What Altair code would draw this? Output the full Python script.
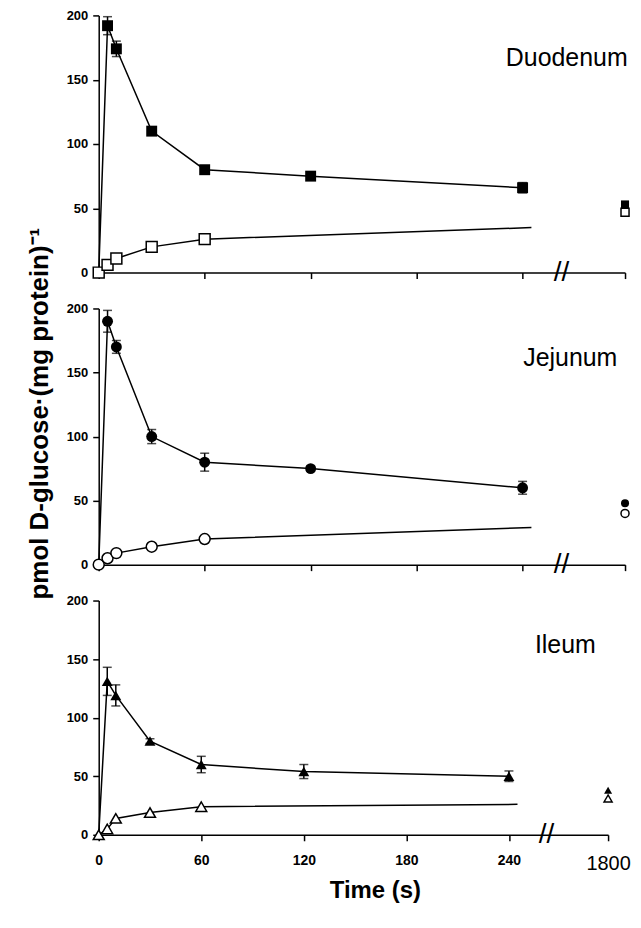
import altair as alt
import pandas as pd

FONT = "Liberation Sans"
BREAK_T = 262      # axis position of the "//" break
LATE_T = 1800      # late time point
LATE_POS = 298     # axis position where 1800 s is drawn
OPEN_END_T = 245   # where the open-symbol curves end

times = [0, 5, 10, 30, 60, 120, 240]
open_times = [0, 5, 10, 30, 60]
x_ticks = [0, 60, 120, 180, 240, LATE_POS]
y_ticks = [0, 50, 100, 150, 200]
y_title = "pmol D-glucose·(mg protein)⁻¹"

# Duodenum (squares)
duo_filled = [0, 192, 174, 110, 80, 75, 66]
duo_err = [0, 7, 6, 3, 2, 2, 4]
duo_open = [0, 6, 11, 20, 26]
duo_open_end = 35
duo_late = [53, 47]

# Jejunum (circles)
jej_filled = [0, 190, 170, 100, 80, 75, 60]
jej_err = [0, 8.5, 5, 5.5, 7, 2, 5]
jej_open = [0, 5, 9, 14, 20]
jej_open_end = 29
jej_late = [48, 40]

# Ileum (triangles)
ile_filled = [0, 131, 119, 80, 60, 54, 50]
ile_err = [0, 12, 9, 2, 7, 6, 4.5]
ile_open = [0, 5, 14, 19, 24]
ile_open_end = 26
ile_late = [38, 31]

regions = ["Duodenum", "Jejunum", "Ileum"]
label_pos = [(265, 167), (267, 161), (273, 162)]


def pos(t):
    return LATE_POS if t == LATE_T else t


def panel(name, shape, filled, err, opn, open_end, late, lpos, width, height,
          bottom, with_ytitle):
    f_line = pd.DataFrame({"pos": times, "v": filled})
    o_line = pd.DataFrame({"pos": open_times + [OPEN_END_T], "v": opn + [open_end]})
    f_pts = pd.DataFrame({"t": times[1:] + [LATE_T], "v": filled[1:] + [late[0]]})
    f_pts["pos"] = [pos(t) for t in f_pts["t"]]
    o_pts = pd.DataFrame({"t": open_times + [LATE_T], "v": opn + [late[1]]})
    o_pts["pos"] = [pos(t) for t in o_pts["t"]]
    e = pd.DataFrame({"pos": times, "v": filled, "err": err})
    e = e[e["err"] > 0].copy()
    e["lo"] = e["v"] - e["err"]
    e["hi"] = e["v"] + e["err"]

    xscale = alt.Scale(domain=[0, LATE_POS], nice=False, zero=False)
    yscale = alt.Scale(domain=[0, 200], nice=False)
    if bottom:
        xaxis = alt.Axis(
            values=x_ticks,
            labelExpr="datum.value == %d ? '1800' : datum.label" % LATE_POS,
            labelFontSize=alt.condition("datum.value == %d" % LATE_POS, alt.value(20), alt.value(14)),
            labelFontWeight=alt.condition("datum.value == %d" % LATE_POS, alt.value("normal"), alt.value("bold")),
            labelFlush=False,
            labelPadding=13,
            title="Time (s)",
            titleFontSize=24,
            titleFontWeight="bold",
            titlePadding=5,
            titleX=277,
            titleAnchor="start",
            titleAlign="center",
        )
    else:
        xaxis = alt.Axis(values=x_ticks, labels=False, title=None)
    if with_ytitle:
        yaxis = alt.Axis(values=y_ticks, labelFontSize=13, labelFontWeight="bold",
                         labelPadding=5, title=y_title, titleFontSize=26,
                         titleFontWeight="bold", titleY=105, titleAlign="center",
                         titleAnchor="start", titlePadding=14)
    else:
        yaxis = alt.Axis(values=y_ticks, title=None, labelFontSize=13,
                         labelFontWeight="bold", labelPadding=5)

    X = lambda f="pos": alt.X(f"{f}:Q", scale=xscale, axis=xaxis)
    Y = lambda f="v": alt.Y(f"{f}:Q", scale=yscale, axis=yaxis)

    size = alt.condition("datum.t == %d" % LATE_T, alt.value(65), alt.value(120))

    layers = [
        alt.Chart(f_line).mark_line(color="black", strokeWidth=1.5).encode(x=X(), y=Y()),
        alt.Chart(o_line).mark_line(color="black", strokeWidth=1.5).encode(x=X(), y=Y()),
        alt.Chart(e).mark_rule(color="black", strokeWidth=1.5).encode(
            x=X(), y=Y("lo"), y2="hi:Q"),
        alt.Chart(e).transform_fold(["lo", "hi"], as_=["end", "cap"]).mark_tick(
            color="black", thickness=1.5, size=9, orient="horizontal").encode(
            x=X(), y=Y("cap")),
        alt.Chart(f_pts).mark_point(shape=shape, filled=True, color="black",
                                    opacity=1).encode(x=X(), y=Y(), size=size),
        alt.Chart(o_pts).mark_point(shape=shape, filled=True, fill="white",
                                    stroke="black", strokeWidth=1.5,
                                    opacity=1).encode(x=X(), y=Y(), size=size),
        alt.Chart(pd.DataFrame({"x": [lpos[0]], "y": [lpos[1]], "label": [name]}))
        .mark_text(font=FONT, fontSize=25, align="center", baseline="middle")
        .encode(x=X("x"), y=Y("y"), text="label:N"),
        alt.Chart(pd.DataFrame({"x": [BREAK_T], "y": [0]}))
        .mark_text(text="//", font=FONT, fontSize=28, fontWeight="normal",
                   align="center", baseline="middle")
        .encode(x=X("x"), y=Y("y")),
    ]
    return alt.layer(*layers).properties(width=width, height=height)


p1 = panel(regions[0], "square", duo_filled, duo_err, duo_open, duo_open_end,
           duo_late, label_pos[0], 528, 258, False, False)
p2 = panel(regions[1], "circle", jej_filled, jej_err, jej_open, jej_open_end,
           jej_late, label_pos[1], 528, 257, False, True)
p3 = panel(regions[2], "triangle-up", ile_filled, ile_err, ile_open, ile_open_end,
           ile_late, label_pos[2], 511, 235, True, False)

chart = alt.vconcat(p1, p2, p3, spacing=36, bounds="flush").properties(
    padding={"left": 18, "top": 0, "right": 0, "bottom": 0},
).configure_view(stroke=None).configure_axis(
    domainColor="black", domainWidth=1.5, tickColor="black", tickWidth=1.5,
    tickSize=6, grid=False, labelFont=FONT, titleFont=FONT,
    labelColor="black", titleColor="black",
)

chart.save("out.html", embed_options={"renderer": "svg", "actions": False})
